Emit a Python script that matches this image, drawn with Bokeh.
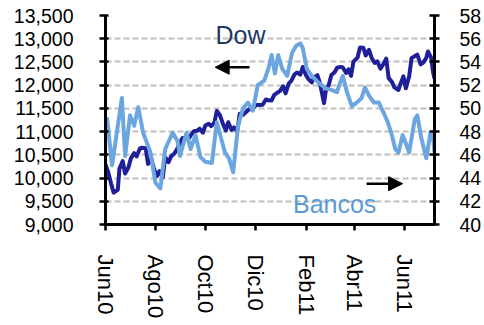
import pandas as pd
from bokeh.plotting import figure
from bokeh.models import (Range1d, LinearAxis, FixedTicker, NumeralTickFormatter,
                          Label, Arrow, NormalHead)
from bokeh.embed import file_html
from bokeh.resources import INLINE

# ---------------- data ----------------
dow_dates = ["2010-06-22", "2010-06-25", "2010-06-29", "2010-07-02", "2010-07-07", "2010-07-09",
             "2010-07-13", "2010-07-16", "2010-07-20", "2010-07-23", "2010-07-27", "2010-07-30",
             "2010-08-03", "2010-08-06", "2010-08-10", "2010-08-13", "2010-08-17", "2010-08-20",
             "2010-08-24", "2010-08-27", "2010-08-31", "2010-09-03", "2010-09-07", "2010-09-10",
             "2010-09-14", "2010-09-17", "2010-09-21", "2010-09-24", "2010-09-28", "2010-10-01",
             "2010-10-05", "2010-10-08", "2010-10-12", "2010-10-15", "2010-10-19", "2010-10-22",
             "2010-10-26", "2010-10-29", "2010-11-02", "2010-11-05", "2010-11-09", "2010-11-12",
             "2010-11-16", "2010-11-19", "2010-11-23", "2010-11-26", "2010-11-30", "2010-12-03",
             "2010-12-07", "2010-12-10", "2010-12-14", "2010-12-17", "2010-12-21", "2010-12-23",
             "2010-12-28", "2010-12-31", "2011-01-04", "2011-01-07", "2011-01-11", "2011-01-14",
             "2011-01-18", "2011-01-21", "2011-01-25", "2011-01-28", "2011-02-01", "2011-02-04",
             "2011-02-08", "2011-02-11", "2011-02-15", "2011-02-18", "2011-02-22", "2011-02-25",
             "2011-03-01", "2011-03-04", "2011-03-08", "2011-03-11", "2011-03-16", "2011-03-18",
             "2011-03-22", "2011-03-25", "2011-03-29", "2011-04-01", "2011-04-05", "2011-04-08",
             "2011-04-12", "2011-04-15", "2011-04-18", "2011-04-21", "2011-04-26", "2011-04-29",
             "2011-05-03", "2011-05-06", "2011-05-10", "2011-05-13", "2011-05-17", "2011-05-20",
             "2011-05-24", "2011-05-27", "2011-05-31", "2011-06-03", "2011-06-07", "2011-06-10",
             "2011-06-15", "2011-06-17", "2011-06-21", "2011-06-24", "2011-06-28", "2011-07-01",
             "2011-07-05", "2011-07-08", "2011-07-12", "2011-07-15", "2011-07-19", "2011-07-21",
             "2011-07-25", "2011-07-27", "2011-07-29"]
dow_values = [10294, 10144, 9870, 9686, 9744, 10198,
              10364, 10098, 10230, 10424, 10537, 10466,
              10636, 10653, 10644, 10303, 10406, 10213,
              10040, 10150, 10015, 10447, 10341, 10462,
              10526, 10607, 10761, 10860, 10858, 10829,
              10944, 11006, 11020, 11062, 10978, 11132,
              11169, 11118, 11188, 11444, 11346, 11192,
              11023, 11203, 11036, 11092, 11006, 11382,
              11360, 11410, 11476, 11491, 11533, 11573,
              11575, 11577, 11691, 11674, 11671, 11787,
              11837, 11871, 11977, 11823, 12040, 12092,
              12233, 12273, 12226, 12391, 12213, 12130,
              12058, 12169, 12214, 12044, 11613, 11858,
              12018, 12220, 12279, 12376, 12393, 12380,
              12263, 12342, 12201, 12506, 12595, 12811,
              12807, 12638, 12760, 12596, 12479, 12512,
              12356, 12441, 12570, 12151, 12070, 11952,
              11897, 12004, 12190, 11934, 12188, 12582,
              12626, 12657, 12447, 12480, 12588, 12724,
              12593, 12303, 12143]

bancos_dates = ["2010-06-22", "2010-06-24", "2010-06-30", "2010-07-12", "2010-07-16", "2010-07-22",
                "2010-07-27", "2010-08-01", "2010-08-07", "2010-08-16", "2010-08-22", "2010-08-28",
                "2010-09-03", "2010-09-12", "2010-09-18", "2010-09-21", "2010-09-29", "2010-10-04",
                "2010-10-10", "2010-10-16", "2010-10-22", "2010-10-30", "2010-11-05", "2010-11-10",
                "2010-11-15", "2010-11-20", "2010-11-25", "2010-12-01", "2010-12-07", "2010-12-13",
                "2010-12-19", "2010-12-25", "2011-01-02", "2011-01-07", "2011-01-11", "2011-01-15",
                "2011-01-19", "2011-01-24", "2011-01-30", "2011-02-05", "2011-02-10", "2011-02-15",
                "2011-02-18", "2011-02-23", "2011-03-01", "2011-03-08", "2011-03-15", "2011-03-19",
                "2011-03-25", "2011-04-01", "2011-04-04", "2011-04-08", "2011-04-13", "2011-04-19",
                "2011-04-25", "2011-05-01", "2011-05-05", "2011-05-10", "2011-05-16", "2011-05-22",
                "2011-05-28", "2011-06-02", "2011-06-07", "2011-06-11", "2011-06-15", "2011-06-20",
                "2011-06-25", "2011-06-28", "2011-07-05", "2011-07-08", "2011-07-13", "2011-07-19",
                "2011-07-24", "2011-07-27", "2011-07-29"]
bancos_values = [48.6, 49.1, 45.1, 50.9, 45.9, 49.4,
                 48.5, 50.1, 47.9, 46.2, 43.6, 43.1,
                 46.5, 47.9, 47.2, 45.9, 47.9, 46.5,
                 47.7, 45.8, 45.4, 45.3, 48.8, 47.5,
                 46.2, 45.7, 44.5, 48.5, 50.0, 50.5,
                 49.8, 52.0, 52.4, 53.4, 54.6, 53.0,
                 54.6, 53.4, 52.8, 54.8, 55.4, 55.6,
                 55.2, 53.4, 52.8, 52.3, 51.9, 51.7,
                 51.6, 51.4, 52.1, 52.8, 51.4, 50.2,
                 50.5, 50.9, 51.8, 51.1, 50.5, 50.5,
                 49.6, 48.8, 47.7, 46.5, 46.2, 47.7,
                 46.8, 46.2, 49.1, 49.4, 47.4, 45.7,
                 47.9, 47.7, 46.2]

tick_dates = ["2010-06-22", "2010-08-22", "2010-10-22", "2010-12-22",
              "2011-02-22", "2011-04-22", "2011-06-22"]
tick_labels = ["Jun10", "Ago10", "Oct10", "Dic10", "Feb11", "Abr11", "Jun11"]
dow_ticks = [9000, 9500, 10000, 10500, 11000, 11500, 12000, 12500, 13000, 13500]
bancos_ticks = [40, 42, 44, 46, 48, 50, 52, 54, 56, 58]


def ms(dates):
    return [float(v) for v in (pd.to_datetime(dates).astype("int64") // 10**6)]


dow_x = ms(dow_dates)
ban_x = ms(bancos_dates)
tick_x = ms(tick_dates)
x_start, x_end = ms(["2010-06-22", "2011-07-29"])

FONT = "Liberation Sans"
DARK = "#1f1f99"
LIGHT = "#6ca6e0"

p = figure(width=484, height=325, x_axis_type="datetime",
           output_backend="svg", toolbar_location=None,
           x_range=Range1d(x_start, x_end),
           y_range=Range1d(dow_ticks[0], dow_ticks[-1]),
           min_border_left=105, min_border_right=49,
           min_border_top=15, min_border_bottom=101)
p.outline_line_color = None
p.background_fill_color = "white"
p.border_fill_color = "white"

p.extra_y_ranges = {"b": Range1d(bancos_ticks[0], bancos_ticks[-1])}

# grid
p.xgrid.visible = False
p.ygrid.ticker = FixedTicker(ticks=dow_ticks)
p.ygrid.grid_line_color = "#bfbfbf"
p.ygrid.grid_line_dash = "6 3"
p.ygrid.grid_line_width = 2

# x axis
xa = p.xaxis[0]
xa.ticker = FixedTicker(ticks=tick_x)
xa.major_label_overrides = {t: l for t, l in zip(tick_x, tick_labels)}
xa.major_label_orientation = "vertical"
xa.major_label_text_font = FONT
xa.major_label_text_font_size = "22px"
xa.major_label_text_color = "black"
xa.major_label_standoff = 24
xa.major_tick_in = 1
xa.major_tick_out = 6
xa.minor_tick_line_color = None

# left axis
ya = p.yaxis[0]
ya.ticker = FixedTicker(ticks=dow_ticks)
ya.formatter = NumeralTickFormatter(format="0,0")
ya.major_label_text_font = FONT
ya.major_label_text_font_size = "19.5px"
ya.major_label_text_color = "black"
ya.major_label_standoff = 26
ya.major_tick_in = 3
ya.major_tick_out = 6
ya.minor_tick_line_color = None

# right axis
ra = LinearAxis(y_range_name="b", ticker=FixedTicker(ticks=bancos_ticks))
ra.major_label_text_font = FONT
ra.major_label_text_font_size = "19.5px"
ra.major_label_text_color = "black"
ra.major_label_standoff = 20
ra.major_tick_in = 5
ra.major_tick_out = 5
ra.minor_tick_line_color = None
p.add_layout(ra, "right")

for ax in (xa, ya, ra):
    ax.axis_line_color = "black"
    ax.axis_line_width = 3
    ax.major_tick_line_color = "black"
    ax.major_tick_line_width = 2.5

# series
p.line(dow_x, dow_values, line_width=4, color=DARK, line_join="round")
p.line(ban_x, bancos_values, y_range_name="b", line_width=4, color=LIGHT, line_join="round")

# annotations
p.add_layout(Label(x=ms(["2010-12-04"])[0], y=13070, text="Dow", text_align="center",
                   text_baseline="alphabetic", text_font=FONT, text_font_size="25px",
                   text_color="#1f3864"))
p.add_layout(Label(x=ms(["2011-03-29"])[0], y=9450, text="Bancos", text_align="center",
                   text_baseline="alphabetic", text_font=FONT, text_font_size="25px",
                   text_color="#5b9bd5"))
p.add_layout(Arrow(end=NormalHead(size=14, fill_color="black", line_color="black"),
                   x_start=ms(["2010-12-15"])[0], y_start=12386,
                   x_end=ms(["2010-11-03"])[0], y_end=12386,
                   line_color="black", line_width=2.5))
p.add_layout(Arrow(end=NormalHead(size=14, fill_color="black", line_color="black"),
                   x_start=ms(["2011-05-07"])[0], y_start=9879,
                   x_end=ms(["2011-06-20"])[0], y_end=9879,
                   line_color="black", line_width=2.5))

open("out.html", "w").write(file_html(p, INLINE))
